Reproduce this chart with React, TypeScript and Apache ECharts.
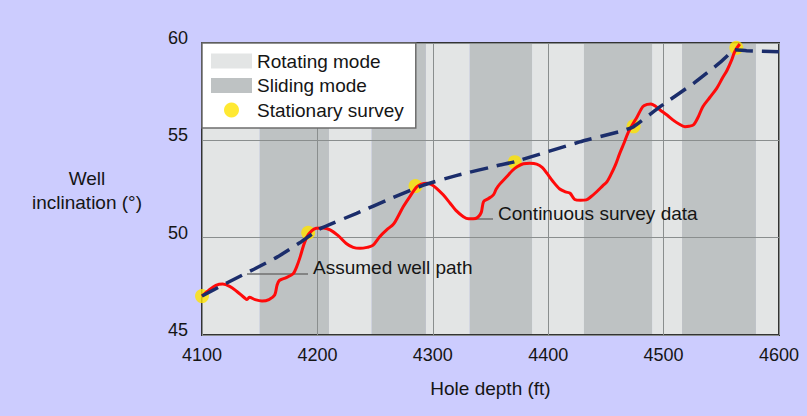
import React, { useEffect, useRef } from "react";
import * as echarts from "echarts";

const depthTicks = [4100, 4200, 4300, 4400, 4500, 4600];
const inclinationTicks = [45, 50, 55, 60];

const rotatingIntervals = [
  [4100, 4150], [4210, 4247], [4294, 4332], [4386, 4431], [4490, 4516], [4580, 4600],
];
const slidingIntervals = [
  [4150, 4210], [4247, 4294], [4332, 4386], [4431, 4490], [4516, 4580],
];

const surveyDepth = [4100, 4192, 4285, 4371, 4474, 4563];
const surveyIncl = [47.0, 50.25, 52.65, 53.88, 55.72, 59.75];

const pathDepth = [4100, 4121, 4145, 4165, 4185, 4202, 4234, 4263, 4292, 4321, 4358, 4371, 4428, 4462, 4474, 4497, 4526, 4549, 4562, 4572, 4600];
const pathIncl = [47.0, 47.66, 48.38, 49.0, 49.75, 50.45, 51.25, 52.0, 52.7, 53.2, 53.73, 53.9, 54.93, 55.45, 55.7, 56.73, 57.93, 59.0, 59.65, 59.6, 59.55];

const continuousDepth = [
  4100, 4106, 4112, 4118, 4124, 4130, 4137, 4139, 4141, 4146, 4152, 4158, 4163, 4165, 4167, 4173, 4179, 4182,
  4185, 4188, 4191, 4195, 4199, 4205, 4211, 4218, 4225, 4231, 4237, 4243, 4248, 4254, 4260, 4266, 4270, 4274.5,
  4280, 4286, 4290, 4295, 4299, 4303, 4309, 4315, 4320, 4326.5, 4331, 4335, 4339, 4342, 4344, 4348, 4352.5, 4355,
  4358, 4364, 4369, 4373, 4378.5, 4384, 4390, 4395, 4399, 4404, 4410, 4415, 4419, 4423, 4428, 4433, 4437, 4442,
  4447, 4451, 4454, 4458, 4462, 4466, 4469, 4473, 4477, 4482, 4486, 4489, 4493, 4497, 4503, 4508, 4513, 4518.5,
  4522, 4526, 4530, 4534, 4540, 4546, 4551, 4555, 4559, 4561, 4563, 4566,
];
const continuousIncl = [
  47.0, 47.3, 47.55, 47.62, 47.5, 47.25, 46.9, 46.82, 46.94, 46.82, 46.75, 46.82, 47.05, 47.55, 47.8, 47.95, 48.15, 48.5,
  49.0, 49.6, 50.05, 50.35, 50.48, 50.5, 50.4, 50.1, 49.7, 49.5, 49.45, 49.5, 49.6, 50.05, 50.4, 50.7, 51.1, 51.6,
  52.1, 52.6, 52.75, 52.8, 52.72, 52.55, 52.2, 51.77, 51.4, 51.08, 50.97, 50.97, 51.05, 51.3, 51.85, 52.0, 52.2, 52.5,
  52.75, 53.13, 53.45, 53.64, 53.8, 53.82, 53.78, 53.6, 53.3, 52.9, 52.5, 52.35, 52.28, 51.96, 51.92, 51.94, 52.1, 52.36,
  52.65, 52.88, 53.2, 53.7, 54.33, 54.9, 55.36, 55.8, 56.2, 56.73, 56.85, 56.87, 56.75, 56.56, 56.3, 56.05, 55.85, 55.7,
  55.72, 55.8, 56.2, 56.73, 57.2, 57.67, 58.2, 58.6, 59.13, 59.47, 59.7, 59.95,
];

const FONT = '"Liberation Sans", Arial, sans-serif';
const TEXT = "#151515";

function stripeSeries(name: string, intervals: number[][], color: string) {
  const yMin = inclinationTicks[0];
  const yMax = inclinationTicks[inclinationTicks.length - 1];
  return {
    name,
    type: "custom",
    z: 1,
    silent: true,
    itemStyle: { color },
    encode: { x: [0, 1] },
    data: intervals,
    renderItem: (params: any, api: any) => {
      const a = api.coord([api.value(0), yMax]);
      const b = api.coord([api.value(1), yMin]);
      return {
        type: "rect",
        shape: { x: a[0], y: a[1], width: b[0] - a[0], height: b[1] - a[1] },
        style: { fill: color },
      };
    },
  };
}

export default function App() {
  const ref = useRef<HTMLDivElement>(null);
  useEffect(() => {
    if (!ref.current) return;
    const chart = echarts.init(ref.current, null, { renderer: "svg" });
    const xMin = depthTicks[0];
    const xMax = depthTicks[depthTicks.length - 1];
    const yMin = inclinationTicks[0];
    const yMax = inclinationTicks[inclinationTicks.length - 1];
    chart.setOption({
      animation: false,
      backgroundColor: "#ccccfe",
      textStyle: { fontFamily: FONT },
      grid: {
        left: 202, right: 28, top: 43, bottom: 81,
        show: true, z: 2, borderColor: "#333", borderWidth: 2, backgroundColor: "transparent",
      },
      legend: {
        left: 202, top: 43, orient: "vertical", z: 10,
        backgroundColor: "#ffffff", borderColor: "#6d6d6d", borderWidth: 1.5, borderRadius: 0,
        padding: [8.5, 12, 8.5, 9],
        itemWidth: 41, itemHeight: 15, itemGap: 5.5,
        selectedMode: false,
        textStyle: { fontFamily: FONT, fontSize: 19, color: TEXT, lineHeight: 19 },
        data: [
          { name: "Rotating mode", icon: "rect" },
          { name: "Sliding mode", icon: "rect" },
          { name: "Stationary survey", icon: "circle" },
        ],
      },
      xAxis: {
        type: "value", min: xMin, max: xMax, interval: 100, z: 2,
        axisLine: { show: false }, axisTick: { show: false },
        splitLine: { show: true, lineStyle: { color: "#8a8e8e", width: 1 } },
        axisLabel: { fontFamily: FONT, fontSize: 18, color: TEXT, margin: 11, formatter: (v: number) => String(v) },
        name: "Hole depth (ft)", nameLocation: "middle", nameGap: 44,
        nameTextStyle: { fontFamily: FONT, fontSize: 19, color: TEXT },
      },
      yAxis: {
        type: "value", min: yMin, max: yMax, interval: 5, z: 2,
        axisLine: { show: false }, axisTick: { show: false },
        splitLine: { show: true, lineStyle: { color: "#8a8e8e", width: 1 } },
        axisLabel: { fontFamily: FONT, fontSize: 18, color: TEXT, margin: 14, verticalAlign: "bottom", lineHeight: 10 },
      },
      graphic: [
        {
          type: "text", left: 87 - 60, top: 166, z: 3,
          style: { text: "Well\ninclination (°)", x: 0, y: 0, fill: TEXT, font: `19px ${FONT}`, textAlign: "center", lineHeight: 24, width: 120 },
        },
        { type: "line", z: 3, shape: { x1: 247, y1: 274, x2: 308, y2: 274 }, style: { stroke: "#6f6f6f", lineWidth: 1.5 } },
        { type: "text", z: 3, x: 313, y: 267, style: { text: "Assumed well path", fill: TEXT, font: `19px ${FONT}`, textVerticalAlign: "middle" } },
        { type: "line", z: 3, shape: { x1: 473, y1: 219, x2: 493, y2: 219 }, style: { stroke: "#6f6f6f", lineWidth: 1.5 } },
        { type: "text", z: 3, x: 498, y: 213, style: { text: "Continuous survey data", fill: TEXT, font: `19px ${FONT}`, textVerticalAlign: "middle" } },
      ],
      series: [
        stripeSeries("Rotating mode", rotatingIntervals, "#e3e5e5"),
        stripeSeries("Sliding mode", slidingIntervals, "#bec2c3"),
        {
          name: "Stationary survey", type: "scatter", z: 3, symbol: "circle", symbolSize: 14, clip: true,
          itemStyle: { color: "#ffe400" },
          data: surveyDepth.map((d, i) => [d, surveyIncl[i]]),
        },
        {
          name: "Continuous survey data", type: "line", z: 4, smooth: 0.3, symbol: "none", clip: true,
          lineStyle: { color: "#ff0a0a", width: 3 },
          data: continuousDepth.map((d, i) => [d, continuousIncl[i]]),
        },
        {
          name: "Assumed well path", type: "line", z: 5, smooth: 0.15, symbol: "none",
          lineStyle: { color: "#1b2d6b", width: 3.5, type: [18, 9] },
          data: pathDepth.map((d, i) => [d, pathIncl[i]]),
        },
      ],
    });
    return () => chart.dispose();
  }, []);
  return (
    <div
      ref={ref}
      style={{ position: "fixed", left: 0, top: 0, width: 807, height: 416, background: "#ccccfe" }}
    />
  );
}
